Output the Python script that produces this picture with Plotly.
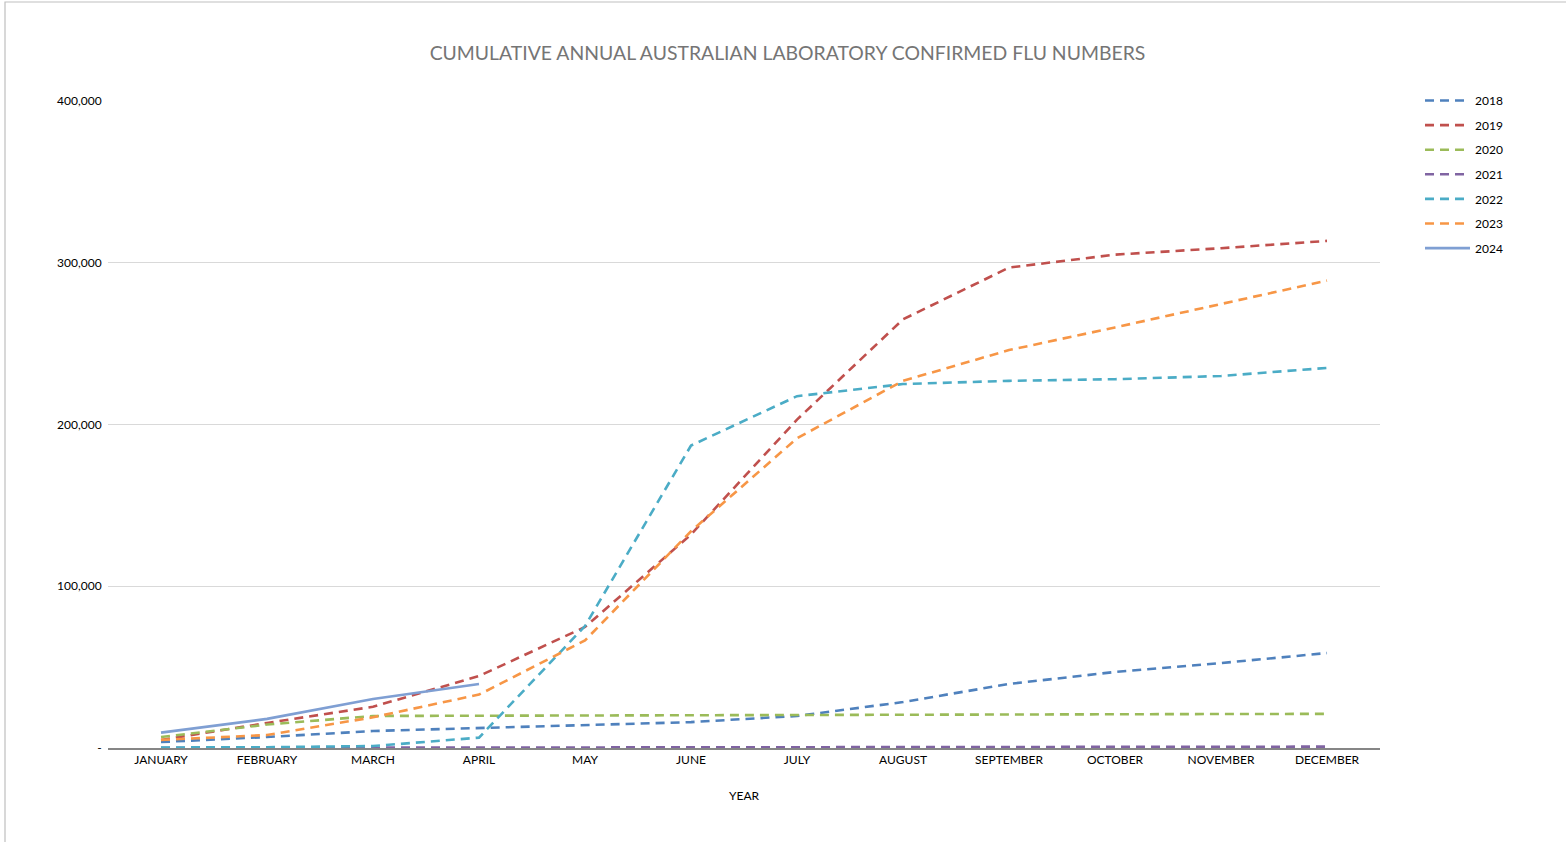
import plotly.graph_objects as go

months = ["JANUARY", "FEBRUARY", "MARCH", "APRIL", "MAY", "JUNE", "JULY",
          "AUGUST", "SEPTEMBER", "OCTOBER", "NOVEMBER", "DECEMBER"]

y2018 = [3700, 6800, 10500, 12400, 14200, 16000, 19800, 28400, 39600, 47000, 52500, 58700]
y2019 = [5000, 15500, 25500, 44500, 74800, 132000, 203000, 265000, 297000, 305000, 309000, 313500]
y2020 = [6800, 14500, 19800, 20000, 20200, 20400, 20600, 20800, 20900, 21000, 21000, 21100]
y2021 = [50, 100, 200, 250, 300, 350, 400, 450, 550, 650, 750, 850]
y2022 = [300, 500, 1200, 6400, 75400, 187000, 217500, 225000, 227000, 228000, 230000, 235000]
y2023 = [5000, 8000, 19000, 33000, 66500, 134000, 191500, 227000, 246000, 260000, 274500, 289000]
y2024 = [9500, 18000, 30300, 39600]

series = [
    ("2018", y2018, "#4F81BD", "dash"),
    ("2019", y2019, "#C0504D", "dash"),
    ("2020", y2020, "#9BBB59", "dash"),
    ("2021", y2021, "#8064A2", "dash"),
    ("2022", y2022, "#4BACC6", "dash"),
    ("2023", y2023, "#F79646", "dash"),
    ("2024", y2024, "#7F9FD3", "solid"),
]

ytickvals = [0, 100000, 200000, 300000, 400000]
yticktext = ["-", "100,000", "200,000", "300,000", "400,000"]

FONT = "Lato, Open Sans, sans-serif"

fig = go.Figure()
for name, vals, color, style in series:
    fig.add_trace(go.Scatter(
        x=months[:len(vals)], y=vals, name=name, mode="lines",
        legendgroup=name,
        line=dict(color=color, width=2.6,
                  dash=("9px,6px" if style == "dash" else "solid")),
    ))

fig.update_layout(
    width=1566, height=842,
    paper_bgcolor="white", plot_bgcolor="white",
    margin=dict(l=108, r=186, t=101, b=94),
    font=dict(family=FONT, size=12, color="#000000"),
    title=dict(text="CUMULATIVE ANNUAL AUSTRALIAN LABORATORY CONFIRMED FLU NUMBERS",
               x=787.5 / 1566, xanchor="center", y=1 - 53 / 842, yanchor="middle",
               font=dict(family=FONT, size=19.4, color="#757575")),
    showlegend=True,
    legend=dict(x=1 + (1420 - 1380) / 1272, xanchor="left",
                y=1 + (101 - 86) / 647, yanchor="top",
                font=dict(family=FONT, size=12, color="#000000"),
                tracegroupgap=5.6, itemwidth=45, bgcolor="rgba(0,0,0,0)"),
    shapes=[dict(type="rect", xref="paper", yref="paper",
                 x0=(5 - 108) / 1272, x1=(1600 - 108) / 1272,
                 y0=(748 - 900) / 647, y1=(748 - 2) / 647,
                 line=dict(color="#BFBFBF", width=1.2), fillcolor="rgba(0,0,0,0)",
                 layer="below")],
)

fig.update_xaxes(
    type="category", categoryorder="array", categoryarray=months,
    range=[-0.5, 11.5], showgrid=False, showline=True,
    linecolor="#868686", linewidth=1.5, ticks="",
    tickfont=dict(family=FONT, size=12, color="#000000"),
    title=dict(text="YEAR", font=dict(family=FONT, size=12, color="#000000"), standoff=25),
)
fig.update_yaxes(
    range=[0, 400000], tickvals=ytickvals, ticktext=yticktext,
    showgrid=True, gridcolor="#D9D9D9", gridwidth=1, zeroline=False,
    showline=False, ticks="outside", ticklen=3, tickcolor="rgba(0,0,0,0)",
    tickfont=dict(family=FONT, size=12, color="#000000"),
)

fig.write_html("out.html", config={"displayModeBar": False},
               post_script="document.body.style.margin='0';")
